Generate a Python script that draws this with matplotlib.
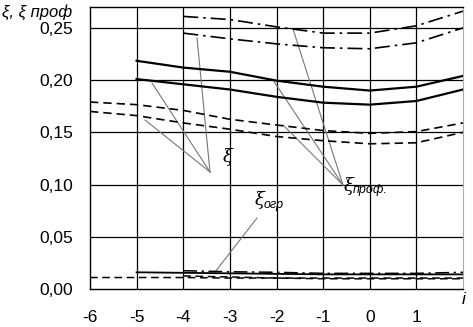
import matplotlib
matplotlib.use("Agg")
import matplotlib.pyplot as plt

plt.rcParams['font.family'] = ['Liberation Sans', 'DejaVu Sans']

# ξ (solid) curves
x_solid = [-5, -4, -3, -2, -1, 0, 1, 2]
xi_solid_up = [0.2185, 0.212, 0.208, 0.1995, 0.1937, 0.190, 0.1937, 0.204]
xi_solid_lo = [0.201, 0.196, 0.191, 0.184, 0.1784, 0.1765, 0.180, 0.191]

# ξ проф dash-dot curves
x_dd = [-4, -3, -2, -1, 0, 1, 2]
xi_dd_up = [0.261, 0.258, 0.251, 0.245, 0.245, 0.252, 0.266]
xi_dd_lo = [0.245, 0.2395, 0.2347, 0.231, 0.230, 0.2357, 0.250]

# ξ проф dashed curves
x_da = [-6, -5, -4, -3, -2, -1, 0, 1, 2]
xi_da_up = [0.179, 0.1765, 0.171, 0.1625, 0.157, 0.1517, 0.149, 0.1507, 0.159]
xi_da_lo = [0.170, 0.166, 0.159, 0.153, 0.146, 0.142, 0.139, 0.140, 0.150]

# ξ огр curves
x_ogr_solid = [-5, -4, -3, -2, -1, 0, 1, 2]
ogr_solid = [0.016, 0.0155, 0.015, 0.0145, 0.014, 0.014, 0.014, 0.014]
x_ogr_da = [-6, -5, -4, -3, -2, -1, 0, 1, 2]
ogr_da = [0.011, 0.011, 0.011, 0.0105, 0.0105, 0.0105, 0.0105, 0.0105, 0.0105]
x_ogr_da2 = [-4, -3, -2, -1, 0, 1, 2]
ogr_da2 = [0.0125, 0.0115, 0.0105, 0.0098, 0.0098, 0.0098, 0.0098]
x_ogr_dd = [-4, -3, -2, -1, 0, 1, 2]
ogr_dd = [0.0175, 0.0165, 0.016, 0.015, 0.015, 0.015, 0.016]

x_ticks = [-6, -5, -4, -3, -2, -1, 0, 1]
y_ticks = [0.00, 0.05, 0.10, 0.15, 0.20, 0.25]
y_tick_labels = ['0,00', '0,05', '0,10', '0,15', '0,20', '0,25']

fig = plt.figure(figsize=(4.73, 3.27), dpi=100)
ax = fig.add_axes([90/473, 1-289/327, (463-90)/473, (289-7)/327])
ax.set_xlim(-6, 2)
ax.set_ylim(0, 0.27)

for xv in x_ticks[1:]:
    ax.axvline(xv, color='black', lw=0.9, zorder=1)
for yv in y_ticks[1:]:
    ax.axhline(yv, color='black', lw=0.9, zorder=1)

ax.plot(x_solid, xi_solid_up, color='black', lw=1.6, zorder=3)
ax.plot(x_solid, xi_solid_lo, color='black', lw=1.6, zorder=3)
dd = (0, (9, 3, 1.5, 3))
ax.plot(x_dd, xi_dd_up, color='black', lw=1.2, ls=dd, zorder=3)
ax.plot(x_dd, xi_dd_lo, color='black', lw=1.2, ls=dd, zorder=3)
da = (0, (5, 3))
ax.plot(x_da, xi_da_up, color='black', lw=1.2, ls=da, zorder=3)
ax.plot(x_da, xi_da_lo, color='black', lw=1.2, ls=da, zorder=3)

ax.plot(x_ogr_solid, ogr_solid, color='black', lw=1.3, zorder=3)
ax.plot(x_ogr_da, ogr_da, color='black', lw=1.1, ls=da, zorder=3)
ax.plot(x_ogr_da2, ogr_da2, color='black', lw=1.1, ls=da, zorder=3)
ax.plot(x_ogr_dd, ogr_dd, color='black', lw=1.1, ls=dd, zorder=3)

# leader lines (in data coords derived from pixel estimates)
def px2data(px, py):
    return (-6 + (px - 90) / (463 - 90) * 8, (289 - py) / (289 - 7) * 0.27)

def leader(p_from, p_to):
    a = px2data(*p_from)
    b = px2data(*p_to)
    ax.plot([a[0], b[0]], [a[1], b[1]], color='#777777', lw=0.8, zorder=2)

xi_pt = (210, 172)
for p in [(152, 83), (145, 120), (197, 38)]:
    leader(p, xi_pt)
prof_pt = (343, 185)
for p in [(293, 29), (273, 80), (283, 125)]:
    leader(p, prof_pt)
leader((215, 272), (257, 218))

tx, ty = px2data(228, 157)
ax.text(tx, ty, 'ξ', fontsize=13, style='italic', ha='center', va='center',
        family=['DejaVu Serif'])
tx, ty = px2data(344, 186)
ax.text(tx, ty, 'ξ', fontsize=13, style='italic', ha='left', va='center',
        family=['DejaVu Serif'])
tx, ty = px2data(353, 190)
ax.text(tx, ty, 'проф.', fontsize=9, style='italic', ha='left', va='center')
tx, ty = px2data(255, 200)
ax.text(tx, ty, 'ξ', fontsize=13, style='italic', ha='left', va='center',
        family=['DejaVu Serif'])
tx, ty = px2data(264, 205)
ax.text(tx, ty, 'огр', fontsize=9, style='italic', ha='left', va='center')

ax.set_xticks(x_ticks)
ax.set_xticklabels([str(v) for v in x_ticks], fontsize=12.5)
ax.set_yticks(y_ticks)
ax.set_yticklabels(y_tick_labels, fontsize=12.5)
ax.tick_params(length=0, pad=12)
ax.tick_params(axis='x', pad=15)

for s in ['left', 'top', 'bottom']:
    ax.spines[s].set_color('black')
    ax.spines[s].set_linewidth(1.0)
ax.spines['right'].set_color('#aaaaaa')
ax.spines['right'].set_linewidth(0.8)

fig.text(462/473, 1-300/327, 'i', fontsize=12.5, style='italic', ha='left', va='center')
fig.text(2/473, 1-12/327, 'ξ, ξ проф', fontsize=12, style='italic', ha='left', va='center')

fig.savefig('out.png', dpi=100)
